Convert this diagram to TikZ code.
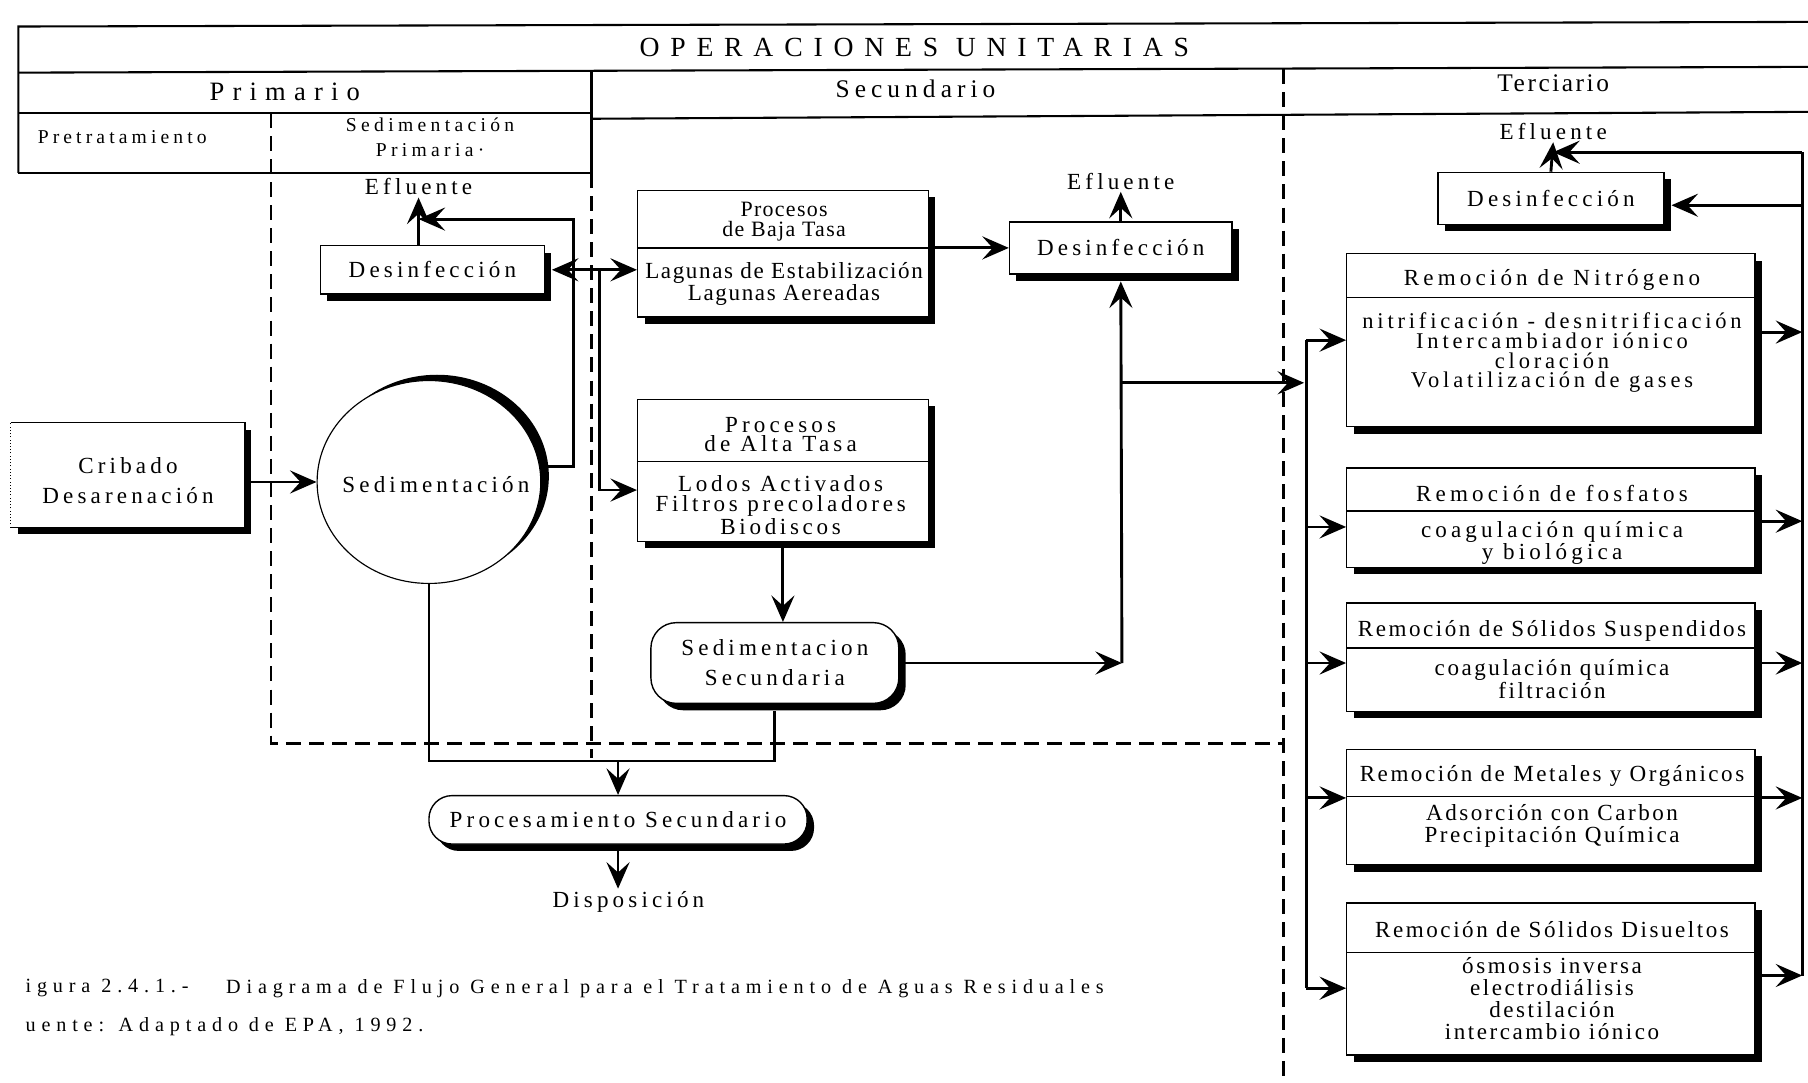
\documentclass[tikz,border=0pt]{standalone}
\usepackage{fontspec}
\setmainfont{Liberation Serif}
\newcommand\mylsp[1]{\addfontfeature{LetterSpace=#1}}
\usetikzlibrary{shapes.geometric,shadows,arrows.meta}
\begin{document}
\begin{tikzpicture}[x=1pt,y=-1pt,
  frame/.style={line width=1.8pt},
  dsh/.style={line width=2.2pt,dash pattern=on 13pt off 7pt},
  conn/.style={line width=2.5pt},
  arr/.style={conn,-{Stealth[length=23pt,width=20pt,inset=9pt]}},
  shad/.style={drop shadow={shadow xshift=6pt,shadow yshift=-6pt,fill=black,opacity=1}},
  box/.style={draw,line width=1.2pt,fill=white,rectangle,inner sep=0pt,shad,align=center},
  rbox/.style={box,rounded corners=22pt},
  txA/.style={inner sep=0pt,align=center,font={\fontsize{20}{17}\selectfont\mylsp{18}}},
  txT/.style={inner sep=0pt,align=center,font={\fontsize{20}{19}\selectfont\mylsp{11}}},
  lbl/.style={inner sep=2pt,font={\fontsize{20}{17}\selectfont\mylsp{18}}},
  captxt/.style={anchor=west,inner sep=0pt,font={\fontsize{17.5}{17}\selectfont\mylsp{29}}},
  divl/.style={line width=1.2pt}
]
\useasboundingbox (0,0) rectangle (1568,939);

% ---------------- header frame ----------------
\draw[frame] (16,150) -- (16,23) -- (1568,19);
\draw[frame] (16,63) -- (1568,58);
\draw[frame] (16,98) -- (513,98);
\draw[frame] (16,150) -- (513,150);
\draw[frame] (513,61) -- (513,150);
\draw[frame] (513,103) -- (1568,97);
% dashed section borders
\draw[dsh] (235,98) -- (235,645) -- (1113,645);
\draw[dsh] (513,150) -- (513,657);
\draw[dsh] (1113,60) -- (1113,939);

\node[inner sep=0pt,font={\fontsize{24}{24}\selectfont\mylsp{39}}] (hOp) at (793,41) {OPERACIONES UNITARIAS};
\node[inner sep=0pt,font={\fontsize{23}{23}\selectfont\mylsp{31}}] (hPri) at (247,80) {Primario};
\node[inner sep=0pt,font={\fontsize{22}{22}\selectfont\mylsp{20}}] (hSec) at (794,77) {Secundario};
\node[inner sep=0pt,font={\fontsize{22}{22}\selectfont\mylsp{10}}] (hTer) at (1347,72) {Terciario};
\node[inner sep=0pt,font={\fontsize{17}{17}\selectfont\mylsp{21}}] (hPre) at (106,119) {Pretratamiento};
\node[inner sep=0pt,align=center,font={\fontsize{17}{22}\selectfont\mylsp{22}}] (hSed) at (373,119) {Sedimentación\\Primaria·};

% ---------------- primario ----------------
\node[lbl] (efl1) at (363,162) {Efluente};
\node[box,txA,minimum width=194pt,minimum height=42pt] (desinf1) at (375,234) {Desinfección};
\node[ellipse,draw,line width=1pt,fill=white,inner sep=0pt,minimum width=194pt,minimum height=176pt,
      drop shadow={shadow xshift=7pt,shadow yshift=5pt,fill=black,opacity=1}] (sed) at (372,418) {};
\node[txA] (sedT) at (378,420) {Sedimentación};
\node[box,draw=none,minimum width=202pt,minimum height=90pt] (crib) at (111,412) {};
\draw[divl] (crib.north west) -- (crib.north east) -- (crib.south east) -- (crib.south west);
\draw[line width=0.8pt,dotted] (crib.south west) -- (crib.north west);
\node[txA,font={\fontsize{20}{26}\selectfont\mylsp{18}}] (cribT) at (111,417) {Cribado\\Desarenación};

% ---------------- secundario ----------------
\node[box,minimum width=252pt,minimum height=110pt] (baja) at (679,220) {};
\draw[divl] (baja.west |- 0,215) -- (baja.east |- 0,215);
\node[txT,font={\fontsize{19}{17}\selectfont\mylsp{6}}] (bajaT) at (680,192) {Procesos\\de Baja Tasa};
\node[txT,font={\fontsize{20}{17.5}\selectfont\mylsp{7}}] (bajaB) at (680,246) {Lagunas de Estabilización\\Lagunas Aereadas};

\node[box,minimum width=252pt,minimum height=123pt] (alta) at (679,408) {};
\draw[divl] (alta.west |- 0,400) -- (alta.east |- 0,400);
\node[txA] (altaT) at (677,377) {Procesos\\de Alta Tasa};
\node[txA,font={\fontsize{20}{17.5}\selectfont\mylsp{16}}] (altaB) at (677,438) {Lodos Activados\\Filtros precoladores\\Biodiscos};

\node[lbl] (efl2) at (972,157) {Efluente};
\node[box,txA,minimum width=193pt,minimum height=45pt] (desinf2) at (972,215) {Desinfección};

\node[rbox,txA,font={\fontsize{20}{26}\selectfont\mylsp{18}},minimum width=215pt,minimum height=70pt] (sedsec) at (672,575) {Sedimentacion\\Secundaria};

\node[rbox,rounded corners=20pt,txA,minimum width=328pt,minimum height=42pt] (procsec) at (536,711) {Procesamiento Secundario};
\node[lbl] (disp) at (545,782) {Disposición};

% ---------------- terciario ----------------
\node[lbl] (efl3) at (1347,114) {Efluente};
\node[box,txA,minimum width=196pt,minimum height=45pt] (desinf3) at (1345,172) {Desinfección};

\node[box,minimum width=354pt,minimum height=150pt] (nitro) at (1345,295) {};
\draw[divl] (nitro.west |- 0,258) -- (nitro.east |- 0,258);
\node[txA] (nitroT) at (1346,243) {Remoción de Nitrógeno};
\node[txA,font={\fontsize{19.5}{17}\selectfont\mylsp{17}}] (nitroB) at (1346,306) {nitrificación - desnitrificación\\Intercambiador iónico\\cloración\\Volatilización de gases};

\node[box,minimum width=354pt,minimum height=86pt] (fosf) at (1345,449) {};
\draw[divl] (fosf.west |- 0,443) -- (fosf.east |- 0,443);
\node[txA] (fosfT) at (1346,428) {Remoción de fosfatos};
\node[txA] (fosfB) at (1346,471) {coagulación química\\y biológica};

\node[box,minimum width=354pt,minimum height=94pt] (susp) at (1345,570) {};
\draw[divl] (susp.west |- 0,562) -- (susp.east |- 0,562);
\node[txT] (suspT) at (1346,547) {Remoción de Sólidos Suspendidos};
\node[txT,font={\fontsize{20}{18}\selectfont\mylsp{11}}] (suspB) at (1346,589) {coagulación química\\filtración};

\node[box,minimum width=354pt,minimum height=100pt] (metal) at (1345,700) {};
\draw[divl] (metal.west |- 0,691) -- (metal.east |- 0,691);
\node[txT] (metalT) at (1346,673) {Remoción de Metales y Orgánicos};
\node[txT] (metalB) at (1346,716) {Adsorción con Carbon\\Precipitación Química};

\node[box,minimum width=354pt,minimum height=132pt] (disuel) at (1345,849) {};
\draw[divl] (disuel.west |- 0,826) -- (disuel.east |- 0,826);
\node[txT] (disuelT) at (1346,806) {Remoción de Sólidos Disueltos};
\node[txT] (disuelB) at (1346,866) {ósmosis inversa\\electrodiálisis\\destilación\\intercambio iónico};

% ---------------- caption ----------------
\node[captxt] (capA) at (22,857) {igura 2.4.1.-};
\node[captxt] (capB) at (196,857) {Diagrama de Flujo General para el Tratamiento de Aguas Residuales};
\node[captxt] (capC) at (22,890) {uente: Adaptado de EPA, 1992.};

% ---------------- connectors ----------------
\coordinate (jA) at (497,190);
\coordinate (jB) at (497,234);
\coordinate (jC) at (520,234);
\coordinate (jD) at (520,425);
\coordinate (jE) at (973,575);
\coordinate (jF) at (973,332);
\coordinate (jH) at (536,660);
\coordinate (bT) at (1133,295);
\coordinate (b2) at (1133,457);
\coordinate (b3) at (1133,575);
\coordinate (b4) at (1133,692);
\coordinate (bB) at (1133,857);
\coordinate (rT) at (1563,132);
\coordinate (r0) at (1563,178);
\coordinate (r1) at (1563,288);
\coordinate (r2) at (1563,452);
\coordinate (r3) at (1563,575);
\coordinate (r4) at (1563,692);
\coordinate (rB) at (1563,846);

\draw[arr] (crib.east |- sed.west) -- (sed.west);
\draw[arr] (desinf1.north -| efl1) -- (efl1.south);
\draw[arr] (sed.8) -| (jA) -- (jA -| efl1);
\draw[arr,shorten >=6pt] (jB) -- (jB -| desinf1.east);
\draw[arr] (jB) -- (jB -| baja.west);
\draw[arr] (jC) -- (jD) -- (jD -| alta.west);

\draw[arr] (baja.east |- desinf2.west) -- (desinf2.west);
\draw[arr] (desinf2.north) -- (efl2.south);
\draw[arr] (alta.south) -- (alta.south |- sedsec.north);
\draw[arr] (sedsec.east) -- (jE);
\draw[arr,shorten >=6pt] (jE) -- (desinf2.south);
\draw[arr] (jF) -- ([xshift=-2pt]jF -| bT);

\draw[conn] (sed.south) -- (sed.south |- jH) -- (jH -| sedsec.south) -- ([yshift=-6pt]sedsec.south);
\draw[arr] (jH) -- (procsec.north);
\draw[arr] (procsec.south) -- (procsec.south |- disp.north);

\draw[conn] (bT) -- (bB);
\draw[arr] (bT) -- (bT -| nitro.west);
\draw[arr] (b2) -- (b2 -| fosf.west);
\draw[arr] (b3) -- (b3 -| susp.west);
\draw[arr] (b4) -- (b4 -| metal.west);
\draw[arr] (bB) -- (bB -| disuel.west);

\draw[conn] (rT) -- (rB);
\draw[arr] (r1 -| nitro.east) -- (r1);
\draw[arr] (r2 -| fosf.east) -- (r2);
\draw[arr] (r3 -| susp.east) -- (r3);
\draw[arr] (r4 -| metal.east) -- (r4);
\draw[arr] (rB -| disuel.east) -- (rB);
\draw[arr,shorten >=6pt] (r0) -- (r0 -| desinf3.east);
\draw[arr] (rT) -- (rT -| efl3);
\draw[arr] (desinf3.north) -- (efl3.south);
\end{tikzpicture}
\end{document}
